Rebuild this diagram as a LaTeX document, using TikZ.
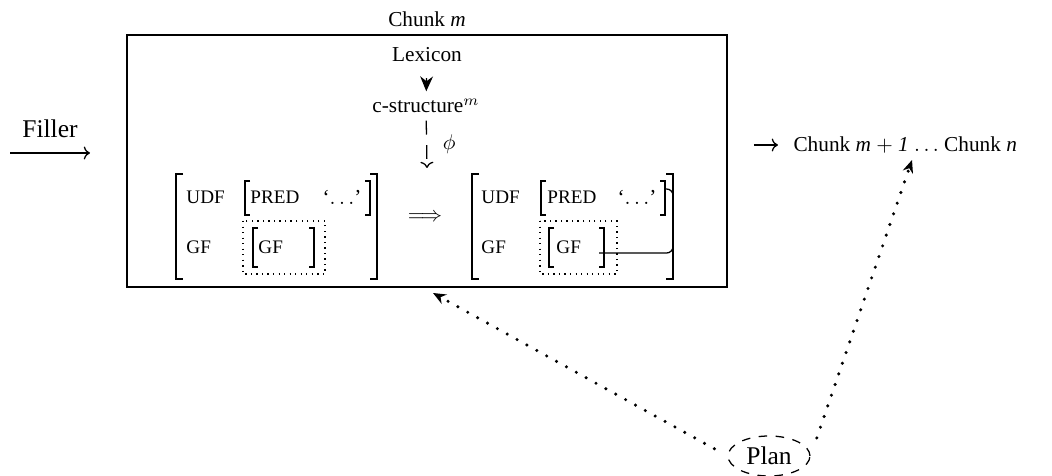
\documentclass[tikz,border=0pt]{standalone}
\usepackage{fontspec}
\setmainfont{Liberation Serif}
\usetikzlibrary{positioning, arrows.meta, shapes.geometric, calc}

% square brackets of an f-structure: left x, right x, top y, bottom y, arm
\newcommand{\fsbrackets}[5]{%
  \draw[fsline] (#1+#5,#3) -| (#1,#4) -- (#1+#5,#4);
  \draw[fsline] (#2-#5,#3) -| (#2,#4) -- (#2-#5,#4);
}

\tikzstyle{flow} = [semithick, ->]
\tikzstyle{feat} = [anchor=west, inner sep=0pt, font=\small]
\tikzset{
  chunkbox/.style={draw, thick, inner sep=0pt, minimum width=282pt, minimum height=118.4pt},
  fsline/.style={semithick},
  gapbox/.style={draw, semithick, dotted},
  lexarrow/.style={semithick, -{Stealth[length=7pt, width=6pt]}, shorten <=4pt},
  phiarrow/.style={semithick, -{To}, dash pattern=on 6.5pt off 5pt},
  planarrow/.style={-{Stealth[length=6pt, width=5pt]}, line width=1.6pt, line cap=round, dash pattern=on 0pt off 5.3pt},
  plannode/.style={ellipse, draw, semithick, dash pattern=on 4pt off 4pt, minimum width=38.5pt, minimum height=18.8pt, inner sep=0pt, font=\large}
}

\begin{document}
\begin{tikzpicture}[x=0.47pt, y=-0.47pt]
  \useasboundingbox (0,0) rectangle (1052,476);

  % Filler
  \coordinate (fillstart) at (10,153);
  \coordinate (fillend) at (90,153);
  \draw[flow] (fillstart) -- node[above=3.4pt, font=\large] (filler) {Filler} (fillend);

  % Chunk m
  \node[chunkbox] (chunk) at (427,161) {};
  \node[above=0pt of chunk.north] (chunklabel) {Chunk \textit{m}};
  \node (lex) at (427,55) {Lexicon};
  \node (cs) at (426,106) {c-structure$^m$};
  \draw[lexarrow] (lex) -- (cs);
  \coordinate (fstop) at (427,168);
  \draw[phiarrow] (cs) -- node[right=4pt] {$\phi$} (fstop);

  % left f-structure
  \fsbrackets{176}{377}{174}{279}{7}
  \fsbrackets{245}{370}{181}{215}{5}
  \draw[gapbox] (243,221) rectangle (325,274);
  \fsbrackets{253}{314}{228}{267}{5}
  \node[feat] (udf1) at (186,197) {UDF};
  \node[feat] (pred1) at (250,197) {PRED};
  \node (sem1) at (342,197) {`$\ldots$'};
  \node[feat] (gf1) at (186,247) {GF};
  \node[feat] (gfin1) at (258,247) {GF};

  \node (impl) at (425,218) {$\Longrightarrow$};

  % right f-structure
  \fsbrackets{472}{673}{174}{279}{7}
  \fsbrackets{541}{665}{181}{215}{5}
  \draw[gapbox] (540,221) rectangle (617,274);
  \fsbrackets{549}{604}{228}{267}{5}
  \node[feat] (udf2) at (481,197) {UDF};
  \node[feat] (pred2) at (547,197) {PRED};
  \node (sem2) at (637,197) {`$\ldots$'};
  \node[feat] (gf2) at (481,247) {GF};
  \node[feat] (gfin2) at (556,247) {GF};
  \coordinate (gfend) at (599,253);
  \coordinate (predend) at (665,189);
  \draw[fsline, rounded corners=3pt] (gfend) -| ($(predend)+(8,0)$) -- (predend);

  % next chunks
  \node[anchor=west] (next) at (786,145) {Chunk \textit{m} $+$ \textit{1} $\ldots$ Chunk \textit{n}};
  \draw[flow, shorten <=12.2pt, shorten >=3.8pt] (chunk.east |- next.west) -- (next.west);

  % Plan
  \node[plannode] (plan) at (769,456) {Plan};
  \coordinate (chunkin) at (433,293);
  \coordinate (nextin) at (912,160);
  \draw[planarrow, shorten <=7pt] (plan.west) -- (chunkin);
  \draw[planarrow, shorten <=9pt] (plan.east) -- (nextin);
\end{tikzpicture}
\end{document}
